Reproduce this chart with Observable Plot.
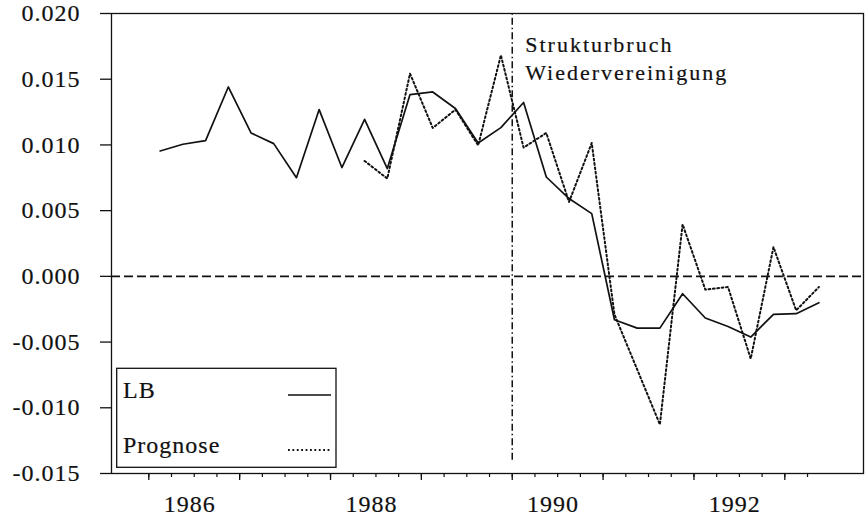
<!DOCTYPE html>
<html><head><meta charset="utf-8">
<script src="https://cdn.jsdelivr.net/npm/d3@7"></script>
<script src="https://cdn.jsdelivr.net/npm/@observablehq/plot@0.6"></script>
<style>
html,body{margin:0;padding:0;background:#fff;}
#chart{position:relative;width:865px;height:516px;}
#legend{position:absolute;left:0;top:0;pointer-events:none;}
</style></head><body>
<div id="chart"></div>
<script>
const periods = ["1986Q1","1986Q2","1986Q3","1986Q4","1987Q1","1987Q2","1987Q3","1987Q4",
  "1988Q1","1988Q2","1988Q3","1988Q4","1989Q1","1989Q2","1989Q3","1989Q4",
  "1990Q1","1990Q2","1990Q3","1990Q4","1991Q1","1991Q2","1991Q3","1991Q4",
  "1992Q1","1992Q2","1992Q3","1992Q4","1993Q1","1993Q2"];
const lb = [0.00954, 0.01005, 0.01033, 0.01441, 0.01091, 0.0101, 0.00751, 0.01269,
  0.00828, 0.01195, 0.0082, 0.01383, 0.01403, 0.01277, 0.01015, 0.01132,
  0.01323, 0.00756, 0.00592, 0.00477, -0.0033, -0.00394, -0.00394, -0.00132,
  -0.00317, -0.00381, -0.00462, -0.00289, -0.00284, -0.002];
const prognose = [null, null, null, null, null, null, null, null,
  null, 0.00878, 0.00744, 0.01543, 0.01129, 0.01269, 0.00997, 0.01683,
  0.0098, 0.01091, 0.00566, 0.01015, -0.0029, -0.00708, -0.01127, 0.00396,
  -0.00101, -0.00081, -0.00627, 0.00223, -0.00259, -0.00081];
const seriesNames = ["LB", "Prognose"];
const yTicks = [-0.015, -0.010, -0.005, 0, 0.005, 0.010, 0.015, 0.020];
const yTickLabels = ["-0.015", "-0.010", "-0.005", "0.000", "0.005", "0.010", "0.015", "0.020"];
const yearLabels = ["1986", "1988", "1990", "1992"];
const breakYear = [1990];
const annotation = ["Strukturbruch", "Wiedervereinigung"];

const W = 865, H = 516;
const ink = "#111";
const parse = p => ({year: +p.slice(0, 4), q: +p.slice(5)});
const rows = periods.map((p, i) => {
  const {year, q} = parse(p);
  return {t: year + (q - 1) / 4 + 0.125, lb: lb[i], prog: prognose[i]};
});
const quarterTicks = periods.map(p => { const {year, q} = parse(p); return year + (q - 1) / 4; });
const yearTicks = periods.map(parse).filter(d => d.q === 1).map(d => d.year);
const labelPos = yearLabels.map(y => +y + 0.45);

const chart = Plot.plot({
  width: W, height: H,
  marginLeft: 111, marginRight: 2, marginTop: 13, marginBottom: 43,
  x: {type: "linear", domain: [1985.5895, 1993.866], label: null},
  y: {domain: [-0.015, 0.020], label: null},
  style: {fontFamily: "'Liberation Serif', 'Times New Roman', serif", fontSize: "24px",
          color: ink, background: "#fff", letterSpacing: "1px"},
  marks: [
    Plot.frame({stroke: ink, strokeWidth: 1.3}),
    Plot.ruleY([0], {stroke: ink, strokeWidth: 1.6, strokeDasharray: "9,4"}),
    Plot.ruleX(breakYear, {y1: -0.014, y2: 0.020, stroke: ink, strokeWidth: 1.5, strokeDasharray: "7,3,1.5,3"}),
    Plot.line(rows, {x: "t", y: "lb", stroke: ink, strokeWidth: 1.7}),
    Plot.line(rows.filter(d => d.prog != null), {x: "t", y: "prog", stroke: ink, strokeWidth: 2, strokeDasharray: "1.8,2.6"}),
    Plot.axisY({ticks: yTicks, tickSize: 11, tickPadding: 20, strokeWidth: 1.3,
      tickFormat: d => yTickLabels[yTicks.indexOf(d)], label: null}),
    Plot.axisX({ticks: quarterTicks, tickSize: 4, strokeWidth: 1.2, tickFormat: () => "", label: null}),
    Plot.axisX({ticks: yearTicks, tickSize: 7, strokeWidth: 1.3, tickFormat: () => "", label: null}),
    Plot.axisX({ticks: labelPos, tickSize: 0, tickPadding: 21,
      tickFormat: d => yearLabels[labelPos.indexOf(d)], label: null}),
    Plot.text([annotation.join("\n")], {x: () => breakYear[0], y: () => 0.020, text: d => d,
      textAnchor: "start", lineAnchor: "top", dx: 13, dy: 18, fontSize: 22, lineHeight: 1.29, fill: ink})
  ]
});
document.getElementById("chart").appendChild(chart);
d3.select(chart).selectAll("text").attr("stroke", ink).attr("stroke-width", 0.2);
d3.select(chart).selectAll("text").filter(function() {
  return this.textContent.includes(annotation[0]);
}).attr("letter-spacing", "2px");

// legend box drawn inside the plot area (as in the original)
const leg = d3.select("#chart").append("svg").attr("id", "legend")
  .attr("width", W).attr("height", H)
  .style("font-family", "'Liberation Serif', 'Times New Roman', serif")
  .style("font-size", "24px").style("letter-spacing", "1px");
leg.append("rect").attr("x", 116.7).attr("y", 368.3).attr("width", 219.3).attr("height", 99)
  .attr("fill", "#fff").attr("stroke", ink).attr("stroke-width", 1.3);
const legendStyles = [{dash: null, w: 1.7}, {dash: "1.8,2.6", w: 2}];
seriesNames.forEach((name, i) => {
  const base = 398.3 + i * 55;
  leg.append("text").attr("x", 123).attr("y", base).attr("fill", ink)
    .attr("stroke", ink).attr("stroke-width", 0.2).text(name);
  leg.append("line").attr("x1", 288).attr("x2", 331).attr("y1", base - 3.3).attr("y2", base - 3.3)
    .attr("stroke", ink).attr("stroke-width", legendStyles[i].w)
    .attr("stroke-dasharray", legendStyles[i].dash);
});
</script>
</body></html>
